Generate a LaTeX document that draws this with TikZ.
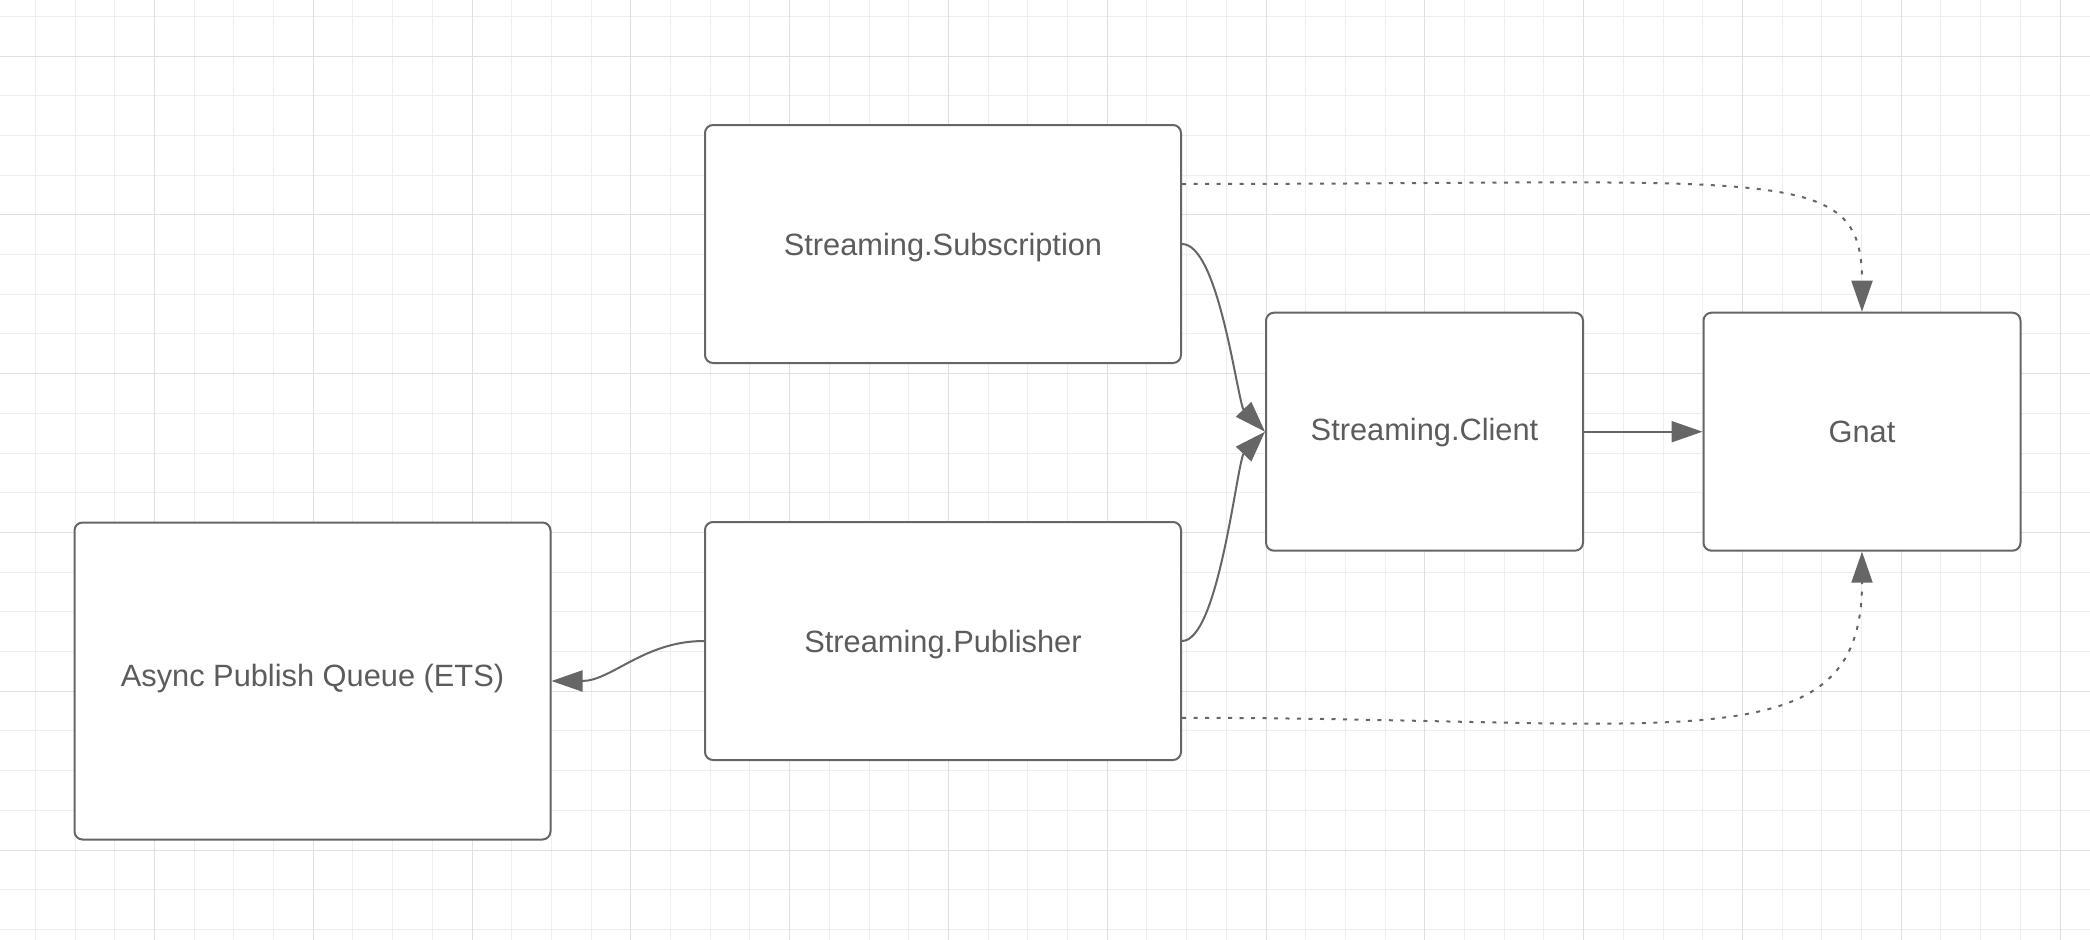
\documentclass[tikz,border=0pt]{standalone}
\usepackage{fontspec}
\setmainfont{Liberation Sans}
\usetikzlibrary{arrows.meta,calc}
\definecolor{lineGray}{RGB}{102,102,102}
\definecolor{textGray}{RGB}{92,92,92}
\definecolor{gridMinor}{RGB}{238,238,238}
\definecolor{gridMajor}{RGB}{224,224,224}

\begin{document}
\begin{tikzpicture}
  [x=0.1mm, y=-0.1mm,
   my minor line/.style={gridMinor, line width=0.1mm},
   my major line/.style={gridMajor, line width=0.1mm},
   my box/.style={draw=lineGray, line width=0.2mm, rounded corners=0.8mm,
     fill=white, text=textGray, inner sep=0pt,
     text height=2.2mm, text depth=0pt,
     font=\fontsize{8.76pt}{10.5pt}\selectfont},
   my wide box/.style={my box, minimum width=47.6mm, minimum height=23.8mm},
   my small box/.style={my box, minimum width=31.7mm, minimum height=23.8mm},
   my arrow/.style={lineGray, line width=0.2mm,
     -{Triangle[length=3.1mm,width=2.1mm]}},
   my dotted arrow/.style={my arrow, dash pattern=on 0.4mm off 0.75mm}, ]

  \useasboundingbox (0,0) rectangle (2090,940);
  \fill[white] (0,0) rectangle (2090,940);

  \foreach \i in {0,...,52}
    \draw[my minor line] ({35.3+39.7*\i},0) -- ++(0,940);
  \foreach \j in {0,...,23}
    \draw[my minor line] (0,{16.3+39.7*\j}) -- ++(2090,0);
  \foreach \i in {0,...,12}
    \draw[my major line] ({154.4+158.8*\i},0) -- ++(0,940);
  \foreach \j in {0,...,5}
    \draw[my major line] (0,{56+158.8*\j}) -- ++(2090,0);

  \node[my wide box] (sub) at (943,244) {Streaming.Subscription};
  \node[my wide box] (pub) at (943,641) {Streaming.Publisher};
  \node[my box, minimum width=47.6mm, minimum height=31.7mm,
    text depth=1.2mm] (queue) at (312.5,681) {Async Publish Queue (ETS)};
  \node[my small box, text depth=0.4mm] (client) at (1424.5,431.7)
    {Streaming.Client};
  \node[my small box] (gnat) at (1862,431.7) {Gnat};

  \draw[my arrow] (sub.east) .. controls +(35,0) and +(-8,-25)
    .. ($(client.west)+(-22,-23)$) -- (client.west);
  \draw[my arrow] (pub.east) .. controls +(35,0) and +(-8,25)
    .. ($(client.west)+(-22,23)$) -- (client.west);
  \draw[my arrow] (client) -- (gnat);
  \draw[my arrow] (pub.west) .. controls +(-60,0) and +(60,0) .. (queue.east);

  \draw[my dotted arrow] ($(sub.north east)!0.25!(sub.south east)$)
    .. controls +(600,0) and +(0,-150) .. (gnat.north);
  \draw[my dotted arrow] ($(pub.north east)!0.82!(pub.south east)$)
    .. controls +(500,0) and +(0,215) .. (gnat.south);

\end{tikzpicture}
\end{document}
